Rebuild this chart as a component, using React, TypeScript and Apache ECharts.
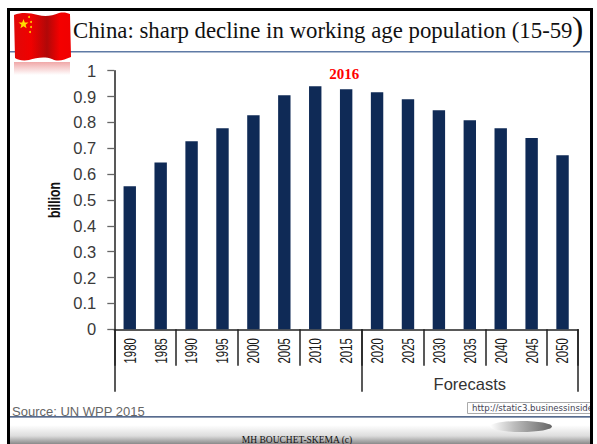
import React, { useEffect, useRef } from "react";
import * as echarts from "echarts";

const years = ["1980","1985","1990","1995","2000","2005","2010","2015","2020","2025","2030","2035","2040","2045","2050"];
const workingAge = [0.553,0.645,0.727,0.777,0.828,0.905,0.94,0.928,0.917,0.89,0.847,0.808,0.777,0.74,0.673];
const yTicks = [0,0.1,0.2,0.3,0.4,0.5,0.6,0.7,0.8,0.9,1];
const peakYear = "2015";
const peakLabel = "2016";
const groupBounds = [0, 8, 15];
const groupLabelAt = [11.5];
const groupLabel = "Forecasts";

const FLAG_PATH =
  "M0 3 C8 0 16 1 24 3 C31 5 38 4 45 1 C50 0 53 1 56 2 L57 45 C50 48 44 50 38 47 C30 44 22 46 15 48 C9 49 4 48 1 46 Z";
echarts.graphic.registerShape("wavingFlag", echarts.graphic.extendPath(FLAG_PATH, {}));
const STAR_PATH = "M0 -5 L1.3 -1.6 L5 -1.5 L2.1 0.7 L3.1 4.2 L0 2.2 L-3.1 4.2 L-2.1 0.7 L-5 -1.5 L-1.3 -1.6 Z";
echarts.graphic.registerShape("flagStar", echarts.graphic.extendPath(STAR_PATH, {}));

const linear = (x2: number, y2: number, stops: [number, string][]) =>
  new echarts.graphic.LinearGradient(0, 0, x2, y2, stops.map(([offset, color]) => ({ offset, color })));

const SANS = "'Liberation Sans', Arial, sans-serif";
const SERIF = "'Liberation Serif', serif";

export default function App() {
  const ref = useRef<HTMLDivElement>(null);
  useEffect(() => {
    document.body.style.margin = "0";
    const chart = echarts.init(ref.current!, undefined, { renderer: "svg" });
    chart.setOption({
      animation: false,
      backgroundColor: "#ffffff",
      grid: { left: 114.3, right: 19, top: 70.7, height: 258.6 },
      xAxis: [
        {
          type: "category",
          data: years,
          axisLine: { lineStyle: { color: "#222", width: 1.5 } },
          axisTick: { show: true, length: 36.5, alignWithLabel: false, lineStyle: { color: "#222", width: 1.5 } },
          axisLabel: { show: false },
        },
        {
          type: "value",
          position: "bottom",
          min: 0,
          max: 15,
          axisLine: { show: false },
          splitLine: { show: false },
          axisTick: { show: true, length: 62.5, customValues: groupBounds, lineStyle: { color: "#222", width: 1.5 } },
          axisLabel: {
            show: true,
            customValues: groupLabelAt,
            formatter: () => groupLabel,
            margin: 46,
            color: "#333",
            fontSize: 16.5,
            fontFamily: SANS,
          },
        },
      ],
      yAxis: {
        type: "value",
        min: 0,
        max: 1,
        interval: 0.1,
        axisLine: { show: true, lineStyle: { color: "#222", width: 1.5 } },
        axisTick: { show: true, length: 7, lineStyle: { color: "#666", width: 1.3 } },
        splitLine: { show: false },
        axisLabel: {
          margin: 18,
          color: "#3a3a3a",
          fontSize: 16.5,
          fontFamily: SANS,
          customValues: yTicks,
          formatter: (v: number) => String(v),
        },
      },
      series: [
        {
          type: "bar",
          barWidth: 12.4,
          itemStyle: { color: "#0f2a56" },
          data: workingAge.map((value, i) =>
            years[i] === peakYear
              ? {
                  value,
                  label: {
                    show: true,
                    position: "top",
                    distance: 8,
                    offset: [-2, 0],
                    formatter: peakLabel,
                    color: "#ff0000",
                    fontWeight: "bold",
                    fontSize: 15,
                    fontFamily: SERIF,
                  },
                }
              : value
          ),
        },
        {
          // Year labels: condensed along the reading direction, hanging below the axis.
          type: "custom",
          silent: true,
          clip: false,
          data: years,
          renderItem: (params: any, api: any) => {
            const [x, y] = api.coord([params.dataIndex, 0]);
            return {
              type: "text",
              x,
              y: y + 21.5,
              rotation: Math.PI / 2,
              scaleX: 0.67,
              style: {
                text: years[params.dataIndex],
                fill: "#1a1a1a",
                font: `17px ${SANS}`,
                textAlign: "center",
                textVerticalAlign: "middle",
              },
            };
          },
        },
      ],
      graphic: [
        // footer band
        { type: "rect", shape: { x: 10, y: 417, width: 580, height: 27 }, style: { fill: linear(0, 1, [[0, "#ffffff"], [0.3, "#ffffff"], [0.7, "#dddddd"], [1, "#8a8a8a"]]) } },
        { type: "line", shape: { x1: 10, y1: 416.8, x2: 590, y2: 416.8 }, style: { stroke: "#1f3a68", lineWidth: 1.2 } },
        { type: "line", shape: { x1: 10, y1: 51.8, x2: 590, y2: 51.8 }, style: { stroke: "#5f7aa5", lineWidth: 1.5 } },
        // heading
        { type: "text", style: { x: 73, y: 30, text: "China: sharp decline in working age population (15-59", fill: "#111", font: `22.8px ${SERIF}`, textVerticalAlign: "middle" } },
        { type: "text", style: { x: 572, y: 28, text: ")", fill: "#111", font: `34px ${SERIF}`, textVerticalAlign: "middle" } },
        // flag and its reflection
        { type: "rect", shape: { x: 14, y: 62, width: 56, height: 13 }, style: { fill: linear(0, 1, [[0, "#f0a8a8"], [1, "#ffffff"]]) } },
        { type: "wavingFlag", x: 14, y: 12, style: { fill: linear(1, 0, [[0, "#e00808"], [0.3, "#f00000"], [0.58, "#b00808"], [0.8, "#f40000"], [1, "#f00000"]]) } },
        { type: "flagStar", x: 23.5, y: 24, style: { fill: "#ffdd00" } },
        { type: "circle", shape: { cx: 29, cy: 17, r: 1 }, style: { fill: "#ffcc00" } },
        { type: "circle", shape: { cx: 31, cy: 22, r: 1 }, style: { fill: "#ffcc00" } },
        { type: "circle", shape: { cx: 31, cy: 27, r: 1 }, style: { fill: "#ffcc00" } },
        { type: "circle", shape: { cx: 30, cy: 32, r: 1 }, style: { fill: "#ffcc00" } },
        // y-axis title
        { type: "text", x: 54, y: 200, rotation: Math.PI / 2, scaleX: 0.72, style: { text: "billion", fill: "#111", font: `bold 17px ${SANS}`, textAlign: "center", textVerticalAlign: "middle" } },
        // credits
        { type: "text", style: { x: 12, y: 411.5, text: "Source: UN WPP 2015", fill: "#666", font: `13px ${SANS}`, textVerticalAlign: "middle" } },
        { type: "rect", shape: { x: 467.5, y: 402.5, width: 124, height: 11 }, style: { fill: "#fdfdfd", stroke: "#aaa", lineWidth: 1 } },
        { type: "text", style: { x: 472, y: 408, text: "http://static3.businessinside", fill: "#445", font: "8.6px 'DejaVu Sans', sans-serif", textVerticalAlign: "middle" } },
        { type: "ellipse", shape: { cx: 521, cy: 426.5, rx: 31, ry: 5.5 }, style: { fill: linear(1, 0, [[0, "#ffffff"], [0.4, "#bbbbbb"], [1, "#666666"]]) } },
        { type: "text", style: { x: 297, y: 440, text: "MH BOUCHET-SKEMA (c)", fill: "#111", font: `9.5px ${SERIF}`, textAlign: "center", textVerticalAlign: "middle" } },
        // slide frame
        { type: "rect", shape: { x: 7, y: 8, width: 586, height: 3 }, style: { fill: "#000" } },
        { type: "rect", shape: { x: 7, y: 8, width: 3, height: 436 }, style: { fill: "#000" } },
        { type: "rect", shape: { x: 590, y: 8, width: 3, height: 436 }, style: { fill: "#000" } },
      ],
    });
    return () => chart.dispose();
  }, []);
  return <div ref={ref} style={{ width: 597, height: 444 }} />;
}
